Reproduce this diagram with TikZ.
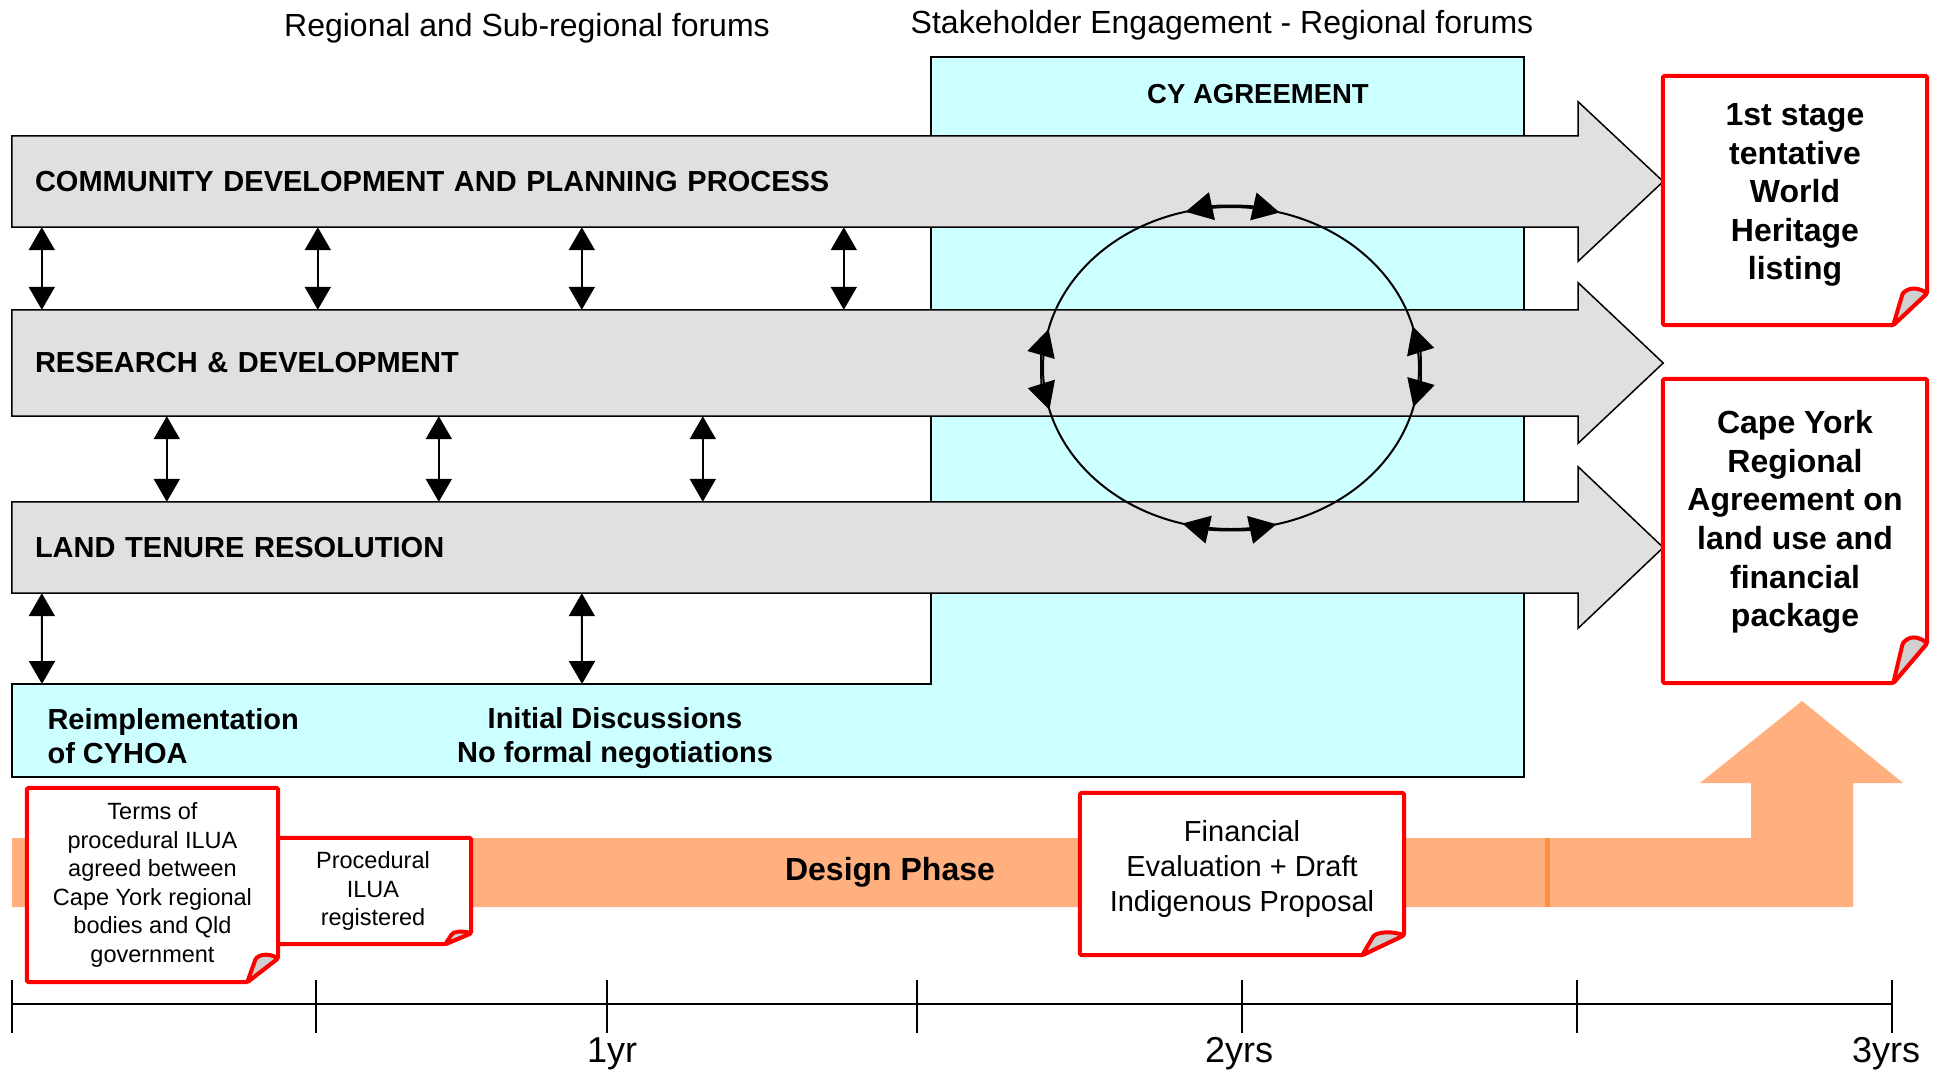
\documentclass[tikz,border=0pt]{standalone}
\usepackage{fontspec}
\setmainfont{Liberation Sans}
\usetikzlibrary{arrows.meta,backgrounds}

\definecolor{cyfill}{HTML}{CCFFFF}
\definecolor{barfill}{HTML}{E0E0E0}
\definecolor{designfill}{HTML}{FFB07E}
\definecolor{designline}{HTML}{FF8F40}
\definecolor{curlfill}{HTML}{D0D0D0}

% red note frame with a curled bottom right corner: node, fold width, fold height
\newcommand\curlnote[3]{%
  \draw[notefrm] (#1.north west) -- (#1.north east) -- ([yshift=#3pt]#1.south east)
    -- ([xshift=-#2pt]#1.south east) -- (#1.south west) -- cycle;
  \draw[notefrm,fill=curlfill] ([xshift=-#2pt]#1.south east)
    -- ([xshift=-0.72*#2pt,yshift=#3pt]#1.south east)
    .. controls ([xshift=-0.45*#2pt,yshift=#3pt+0.25*#3pt]#1.south east)
    and ([xshift=-0.15*#2pt,yshift=#3pt+0.1*#3pt]#1.south east)
    .. ([yshift=#3pt]#1.south east) -- cycle;
}

\begin{document}
\begin{tikzpicture}[x=1pt,y=-1pt]
  \tikzstyle{bar}=[rectangle,inner xsep=23pt,inner ysep=0pt,text width=1520pt,align=left,font=\fontsize{29}{34}\selectfont\bfseries]
  \tikzstyle{barshape}=[draw=black,fill=barfill,line width=1.5pt]
  \tikzstyle{link}=[arrows={Triangle[length=23pt,width=26pt]-Triangle[length=23pt,width=26pt]},line width=2pt]
  \tikzstyle{looplink}=[arrows={Triangle[length=27pt,width=28pt]-Triangle[length=27pt,width=28pt]},line width=2pt]
  \tikzstyle{heading}=[font=\fontsize{32}{38}\selectfont]
  \tikzstyle{cytext}=[align=center,font=\fontsize{29}{34}\selectfont\bfseries]
  \tikzstyle{note}=[rectangle,fill=white,inner sep=0pt,align=center]
  \tikzstyle{notefrm}=[draw=red,line width=4pt,line join=round,rounded corners=1.5pt]
  \tikzstyle{smalltxt}=[font=\fontsize{23.5}{28.5}\selectfont]
  \tikzstyle{goaltxt}=[align=center,font=\fontsize{32}{38.6}\selectfont\bfseries]

  \useasboundingbox (0,0) rectangle (1943,1072);

  \node[heading] (forums) at (527,28) {Regional and Sub-regional forums};
  \node[heading] (stake) at (1222,25) {Stakeholder Engagement - Regional forums};

  % the three work streams
  \node[bar,minimum height=91pt] (cdp) at (795,181.5) {COMMUNITY DEVELOPMENT AND PLANNING PROCESS};
  \node[bar,minimum height=106pt] (rnd) at (795,363) {RESEARCH \& DEVELOPMENT};
  \node[bar,minimum height=91pt] (ltr) at (795,547.5) {LAND TENURE RESOLUTION};

  \begin{scope}[on background layer]
    \draw[line width=1.5pt,fill=cyfill] (12,684) -- (931,684) -- (931,57) -- (1524,57)
      -- (1524,777) -- (12,777) -- cycle;
    \foreach \row/\ext in {cdp/34,rnd/27,ltr/35}
      \draw[barshape] (\row.north west) -- (\row.north east) -- ([yshift=\ext pt]\row.north east)
        -- ([xshift=85pt]\row.east) -- ([yshift=-\ext pt]\row.south east) -- (\row.south east)
        -- (\row.south west) -- cycle;
  \end{scope}

  \node[font=\fontsize{27.5}{33}\selectfont\bfseries] (cya) at (1258,94) {CY AGREEMENT};
  \node[cytext,anchor=west,align=left] (cyhoa) at (44,736) {Reimplementation\\of CYHOA};
  \node[cytext] (talks) at (615,738) {Initial Discussions\\No formal negotiations};

  % links between the streams
  \coordinate (strip) at (12,684);
  \foreach \dx in {30,306,570,832}
    \draw[link] ([xshift=\dx pt]cdp.south west) -- ([xshift=\dx pt]rnd.north west);
  \foreach \dx in {155,427,691}
    \draw[link] ([xshift=\dx pt]rnd.south west) -- ([xshift=\dx pt]ltr.north west);
  \foreach \dx in {30,570}
    \draw[link] ([xshift=\dx pt]ltr.south west) -- ([xshift=\dx pt]strip);

  % negotiation loop
  \coordinate (hub) at (1231,368);
  \draw[line width=2pt] (hub) ellipse [x radius=188, y radius=161];
  \foreach \a in {76,165,256,345}
    \draw[looplink] ([shift={(\a:188 and 161)}]hub) arc[start angle=\a, end angle=\a+29, x radius=188, y radius=161];

  % design phase
  \fill[designfill] (12,838) -- (1751,838) -- (1751,783) -- (1700,783) -- (1802,701)
    -- (1903,783) -- (1853,783) -- (1853,907) -- (12,907) -- cycle;
  \draw[designline,line width=5pt] (1547,838) -- (1547,907);
  \node[font=\fontsize{32}{38}\selectfont\bfseries] (design) at (890,872) {Design Phase};

  \node[note,smalltxt,minimum width=196pt,minimum height=106pt] (proc) at (373,891) {Procedural\\ILUA\\registered};
  \curlnote{proc}{26}{11}
  \node[note,smalltxt,minimum width=251pt,minimum height=194pt] (terms) at (152.5,885) {Terms of\\procedural ILUA\\agreed between\\Cape York regional\\bodies and Qld\\government};
  \curlnote{terms}{31}{24}

  \node[note,minimum width=324pt,minimum height=162pt] (fin) at (1242,874) {};
  \curlnote{fin}{42}{20}
  \node[align=center,font=\fontsize{29}{35}\selectfont] (finT) at (1242,869) {Financial\\Evaluation + Draft\\Indigenous Proposal};

  % outcomes
  \node[note,minimum width=264pt,minimum height=249pt] (wh) at (1795,200.5) {};
  \curlnote{wh}{34}{32}
  \node[goaltxt] (whT) at (1795,195) {1st stage\\tentative\\World\\Heritage\\listing};
  \node[note,minimum width=264pt,minimum height=304pt] (cyra) at (1795,531) {};
  \curlnote{cyra}{34}{40}
  \node[goaltxt] (cyraT) at (1795,522) {Cape York\\Regional\\Agreement on\\land use and\\financial\\package};

  % time line
  \draw[line width=2.5pt] (12,1004) -- (1892,1004);
  \foreach \x in {12,316,607,917,1242,1577,1892}
    \draw[line width=1.5pt] (\x,980) -- (\x,1033);
  \foreach \x/\t in {612/1yr,1239/2yrs,1886/3yrs}
    \node[anchor=base,font=\fontsize{36}{40}\selectfont] (yr\x) at (\x,1062) {\t};
\end{tikzpicture}
\end{document}
